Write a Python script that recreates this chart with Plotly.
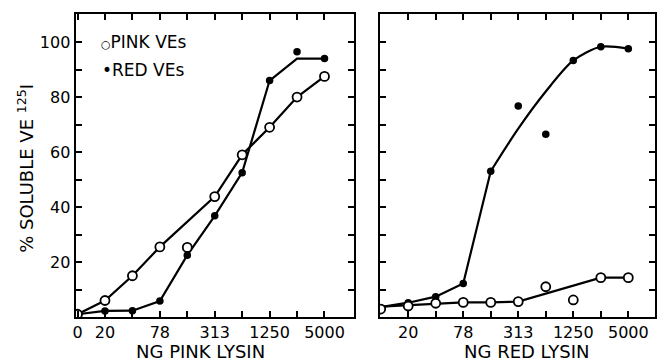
import plotly.graph_objects as go

# dose categories (2-fold dilution series), shown at equal spacing
dose = ["0", "20", "39", "78", "156", "313", "625", "1250", "2500", "5000"]
shown_left = ["0", "20", "78", "313", "1250", "5000"]
shown_right = ["20", "78", "313", "1250", "5000"]

# Left panel: NG PINK LYSIN
left_pink_pts = [1, 6, 15, 25.5, 25.3, 43.8, 59, 69, 80, 87.5]
left_red_pts = [1, 2.2, 2.3, 5.8, 22.5, 36.8, 52.5, 86, 96.5, 94]
left_pink_line_dose = ["0", "20", "39", "78", "313", "625", "1250", "2500", "5000"]
left_pink_line = [1, 6, 15, 25.5, 43.8, 59, 69, 80, 87.5]
left_red_line_dose = dose
left_red_line = [1, 2.2, 2.3, 5.8, 22.5, 36.8, 52.5, 86, 94, 94]

# Right panel: NG RED LYSIN
right_pink_pts = [2.9, 4, 5, 5.3, 5.3, 5.6, 11, 6.2, 14.3, 14.3]
right_red_pts = [3.4, 5.2, 7.4, 12.2, 53, 76.7, 66.5, 93.3, 98.3, 97.6]
right_pink_line_dose = ["0", "20", "39", "78", "156", "313", "2500", "5000"]
right_pink_line = [3.8, 4.3, 5, 5.3, 5.3, 5.6, 14.3, 14.3]
right_red_line_a_dose = ["0", "20", "39", "78", "156"]
right_red_line_a = [3.6, 5.2, 7.4, 12.2, 53]
right_red_line_b_dose = ["156", "313", "625", "1250", "2500", "5000"]
right_red_line_b = [53, 68.5, 82, 93.3, 98.3, 97.6]

y_major = [20, 40, 60, 80, 100]
y_minor = [10, 30, 50, 70, 90]

idx = {d: i for i, d in enumerate(dose)}
def pos(lst):
    return [idx[d] for d in lst]

W, H = 657, 361
FONT = "DejaVu Sans"

fig = go.Figure()

line_style = dict(color="black", width=2.2)
open_marker = dict(symbol="circle", size=9, color="white", line=dict(color="black", width=1.8))
fill_marker = dict(symbol="circle", size=7.5, color="black", line=dict(color="black", width=0))

# left panel
fig.add_trace(go.Scatter(x=pos(left_pink_line_dose), y=left_pink_line, mode="lines",
                         line=line_style, xaxis="x", yaxis="y"))
fig.add_trace(go.Scatter(x=pos(left_red_line_dose), y=left_red_line, mode="lines",
                         line=line_style, xaxis="x", yaxis="y"))
fig.add_trace(go.Scatter(x=pos(dose), y=left_red_pts, mode="markers", marker=fill_marker,
                         xaxis="x", yaxis="y"))
fig.add_trace(go.Scatter(x=pos(dose), y=left_pink_pts, mode="markers", marker=open_marker,
                         xaxis="x", yaxis="y"))

# right panel
fig.add_trace(go.Scatter(x=pos(right_pink_line_dose), y=right_pink_line, mode="lines",
                         line=line_style, xaxis="x2", yaxis="y2"))
fig.add_trace(go.Scatter(x=pos(right_red_line_a_dose), y=right_red_line_a, mode="lines",
                         line=line_style, xaxis="x2", yaxis="y2"))
fig.add_trace(go.Scatter(x=pos(right_red_line_b_dose), y=right_red_line_b, mode="lines",
                         line=dict(color="black", width=2.2, shape="spline", smoothing=0.8),
                         xaxis="x2", yaxis="y2"))
fig.add_trace(go.Scatter(x=pos(dose), y=right_red_pts, mode="markers", marker=fill_marker,
                         xaxis="x2", yaxis="y2"))
fig.add_trace(go.Scatter(x=pos(dose), y=right_pink_pts, mode="markers", marker=open_marker,
                         xaxis="x2", yaxis="y2"))

def px_x(p):
    return p / W
def px_y(p):
    return 1 - p / H

ydom = [px_y(317), px_y(14)]
minor_style = dict(ticks="inside", ticklen=6, tickwidth=1.5, tickcolor="black", showgrid=False)
axis_common = dict(showline=True, linecolor="black", linewidth=2, mirror="ticks",
                   ticks="inside", ticklen=6, tickwidth=1.5, tickcolor="black",
                   showgrid=False, zeroline=False,
                   tickfont=dict(family=FONT, size=16, color="black"))

left_major = pos(shown_left)
left_minor = [i for i in pos(dose) if i not in left_major]
right_major = pos(shown_right)
right_minor = [i for i in pos(dose)[1:] if i not in right_major]

fig.update_layout(
    width=W, height=H,
    margin=dict(l=0, r=0, t=0, b=0),
    paper_bgcolor="white", plot_bgcolor="white",
    showlegend=False,
    xaxis=dict(domain=[px_x(73), px_x(353)], range=[-0.072, 10.07],
               tickvals=left_major, ticktext=shown_left,
               minor=dict(tickvals=left_minor, **minor_style),
               anchor="y", **axis_common),
    yaxis=dict(domain=ydom, range=[0, 110.2], tickvals=y_major,
               ticktext=[str(v) for v in y_major],
               minor=dict(tickvals=y_minor, **minor_style),
               anchor="x", **axis_common),
    xaxis2=dict(domain=[px_x(379), px_x(656)], range=[-0.036, 9.97],
                tickvals=right_major, ticktext=shown_right,
                minor=dict(tickvals=right_minor, **minor_style),
                anchor="y2", **axis_common),
    yaxis2=dict(domain=ydom, range=[0, 110.2], tickvals=y_major, showticklabels=False,
                minor=dict(tickvals=y_minor, **minor_style),
                anchor="x2", **axis_common),
)

ann_font = dict(family=FONT, size=18, color="black")
fig.add_annotation(text="NG PINK LYSIN", x=px_x(199), y=px_y(351.5), xref="paper", yref="paper",
                   showarrow=False, font=ann_font, xanchor="center", yanchor="middle")
fig.add_annotation(text="NG RED LYSIN", x=px_x(527), y=px_y(351.5), xref="paper", yref="paper",
                   showarrow=False, font=ann_font, xanchor="center", yanchor="middle")
fig.add_annotation(text="% SOLUBLE VE <sup>125</sup>I", x=px_x(23), y=px_y(168),
                   xref="paper", yref="paper", showarrow=False, textangle=-90,
                   font=dict(family=FONT, size=18, color="black"),
                   xanchor="center", yanchor="middle")

leg_font = dict(family=FONT, size=17, color="black")
fig.add_annotation(text="<span style='font-size:11px'>○</span>PINK VEs", x=px_x(97), y=px_y(42),
                   xref="paper", yref="paper",
                   showarrow=False, font=leg_font, xanchor="left", yanchor="middle")
fig.add_annotation(text="•RED VEs", x=px_x(98), y=px_y(70), xref="paper", yref="paper",
                   showarrow=False, font=leg_font, xanchor="left", yanchor="middle")

fig.write_html("out.html", config={"displayModeBar": False},
               post_script="document.body.style.margin='0px';document.body.style.overflow='hidden';")
